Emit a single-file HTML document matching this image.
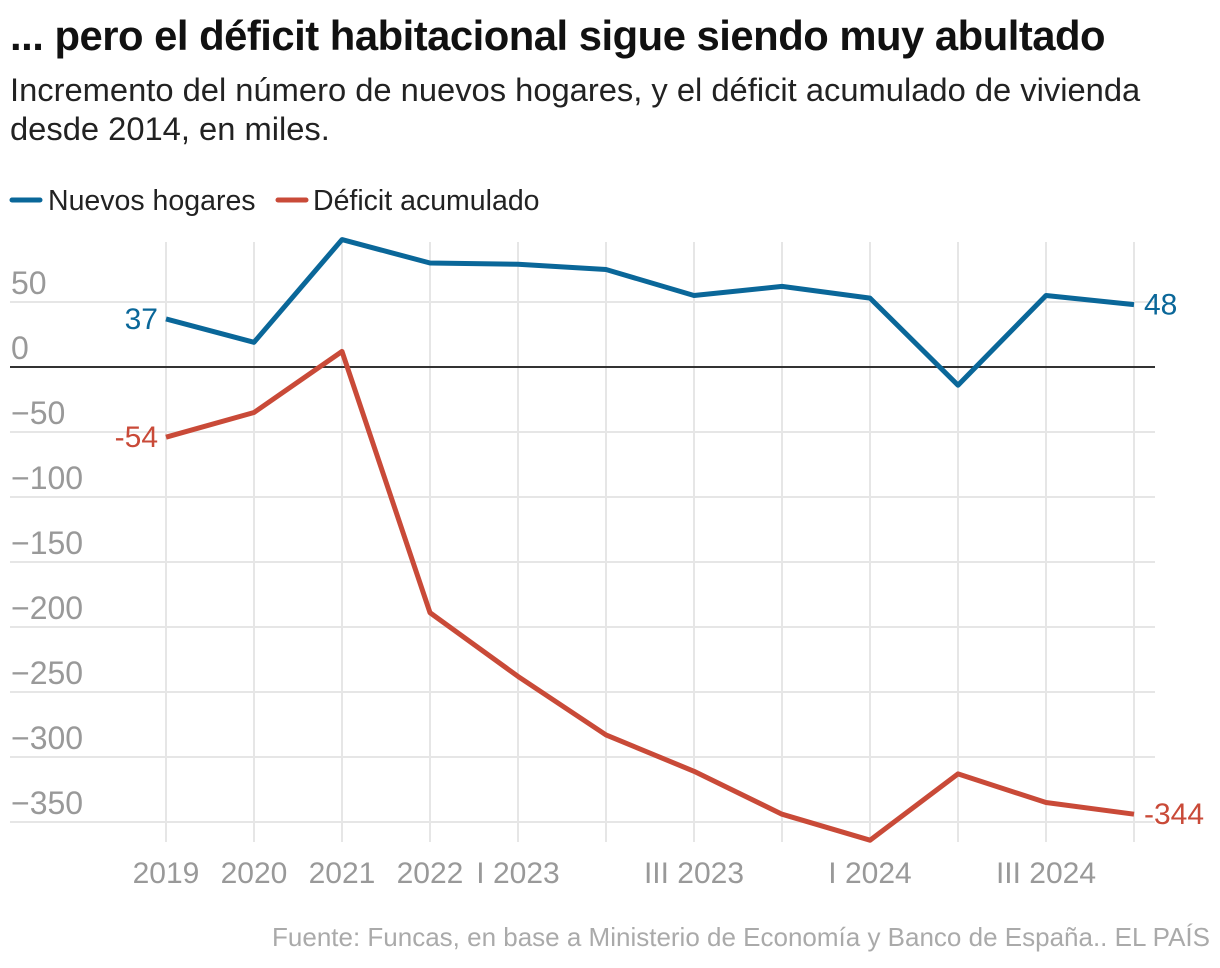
<!DOCTYPE html>
<html><head><meta charset="utf-8"><style>
body{margin:0;background:#fff;width:1220px;height:968px;overflow:hidden;font-family:"Liberation Sans",sans-serif}
h1{position:absolute;left:10px;top:12px;margin:0;font-size:41.8px;font-weight:bold;color:#111;letter-spacing:-0.5px;white-space:nowrap}
.sub{position:absolute;left:10px;top:70px;font-size:32.7px;line-height:39px;color:#222;width:1200px;white-space:nowrap}
.src{position:absolute;right:10px;top:922px;font-size:26px;color:#aaa;white-space:nowrap}
</style></head><body>
<h1>... pero el déficit habitacional sigue siendo muy abultado</h1>
<div class="sub">Incremento del número de nuevos hogares, y el déficit acumulado de vivienda<br>desde 2014, en miles.</div>
<svg id="c" width="1220" height="968" style="position:absolute;left:0;top:0"></svg>
<div class="src">Fuente: Funcas, en base a Ministerio de Economía y Banco de España.. EL PAÍS</div>
<script>
const categories=["2019","2020","2021","2022","I 2023","II 2023","III 2023","IV 2023","I 2024","II 2024","III 2024","IV 2024"];
const tickLabels=["2019","2020","2021","2022","I 2023","","III 2023","","I 2024","","III 2024",""];
const hogares=[37,19,98,80,79,75,55,62,53,-14,55,48];
const deficit=[-54,-35,12,-189,-238,-283,-311,-344,-364,-313,-335,-344];
const yTicks=[50,0,-50,-100,-150,-200,-250,-300,-350];
const NS="http://www.w3.org/2000/svg";
const svg=document.getElementById('c');
const x=i=>166+i*88.0;
const y=v=>367-v*1.3;
function el(t,a,p){const e=document.createElementNS(NS,t);for(const k in a)e.setAttribute(k,a[k]);(p||svg).appendChild(e);return e;}
let g=el('g',{});


el('line',{x1:12,y1:200,x2:40,y2:200,stroke:'#0a6799','stroke-width':5,'stroke-linecap':'round'},g);
let t=el('text',{x:48,y:210,'font-size':28.5,fill:'#222'},g);t.textContent='Nuevos hogares';
el('line',{x1:278,y1:200,x2:306,y2:200,stroke:'#c94a38','stroke-width':5,'stroke-linecap':'round'},g);
t=el('text',{x:313,y:210,'font-size':28.5,fill:'#222'},g);t.textContent='Déficit acumulado';
categories.forEach((c,i)=>{
 const l=el('line',{x1:x(i),x2:x(i),y1:242,y2:842,stroke:'#e6e6e6','stroke-width':2});
 
 
 if(tickLabels[i]){const tx=el('text',{x:x(i),y:883,'font-size':30,fill:'#999','text-anchor':'middle'});tx.textContent=tickLabels[i];
 
 }
});
yTicks.forEach(v=>{
 const l=el('line',{x1:10,x2:1155,y1:y(v),y2:y(v),stroke:v===0?'#333':'#e6e6e6','stroke-width':2});
 
 
 const tx=el('text',{x:11,y:y(v)-8,'font-size':32,fill:'#999'});tx.textContent=v<0?'−'+(-v):String(v);
 
 
});
function series(d,col,name){
 const p=el('polyline',{points:d.map((v,i)=>x(i)+','+y(v)).join(' '),fill:'none',stroke:col,'stroke-width':5,'stroke-linejoin':'round'});
 
 
 const a=el('text',{x:x(0)-8,y:y(d[0])+10,'font-size':30,fill:col,'text-anchor':'end'});a.textContent=d[0];
 
 
 const n=d.length-1;
 const b=el('text',{x:x(n)+10,y:y(d[n])+10,'font-size':30,fill:col});b.textContent=d[n];
 
 
}
series(hogares,'#0a6799','line-nuevos-hogares');
series(deficit,'#c94a38','line-deficit-acumulado');
</script>
</body></html>
